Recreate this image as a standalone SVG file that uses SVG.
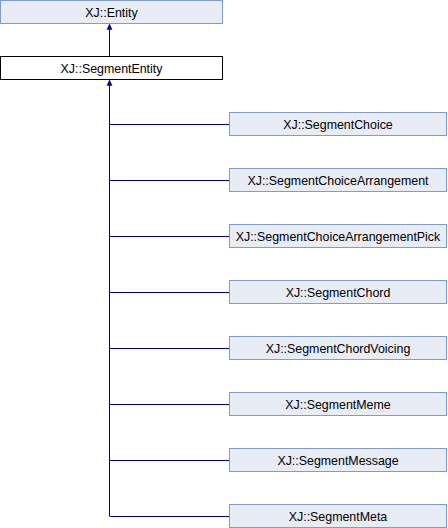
<svg xmlns="http://www.w3.org/2000/svg" width="448" height="528" viewBox="0 0 448 528">
<style>
.box{fill:#E8ECF5;stroke:#7F9BD0;stroke-width:1}
.cur{fill:#FFFFFF;stroke:#000000;stroke-width:1}
.lbl{font-family:"Liberation Sans",Arial,sans-serif;font-size:12.4px;fill:#000000;text-anchor:middle}
.ln{fill:none;stroke:#000080;stroke-width:1}
.ah{fill:#000080;stroke:#000080;stroke-width:0.5}
</style>
<rect width="448" height="528" fill="#FFFFFF"/>
<g id="connectors">
<path class="ln" d="M109.5,56 L109.5,26"/>
<polygon class="ah" points="109.5,24 112,29.5 107,29.5"/>
<path class="ln" d="M109.5,516 L109.5,82"/>
<polygon class="ah" points="109.5,80 112,85.5 107,85.5"/>
<path class="ln" d="M109.5,124.5 H229.5 M109.5,180.5 H229.5 M109.5,236.5 H229.5 M109.5,292.5 H229.5 M109.5,348.5 H229.5 M109.5,404.5 H229.5 M109.5,460.5 H229.5 M109.5,516.5 H229.5"/>
</g>
<g id="entity"><rect class="box" x="0.5" y="0.5" width="222" height="23"/><text class="lbl" x="111.5" y="16.5">XJ::Entity</text></g>
<g id="segmententity"><rect class="cur" x="0.5" y="56.5" width="222" height="23"/><text class="lbl" x="111.5" y="72.5">XJ::SegmentEntity</text></g>
<g id="segmentchoice"><rect class="box" x="229.5" y="112.5" width="217" height="23"/><text class="lbl" x="338" y="128.5">XJ::SegmentChoice</text></g>
<g id="segmentchoicearrangement"><rect class="box" x="229.5" y="168.5" width="217" height="23"/><text class="lbl" x="338" y="184.5">XJ::SegmentChoiceArrangement</text></g>
<g id="segmentchoicearrangementpick"><rect class="box" x="229.5" y="224.5" width="217" height="23"/><text class="lbl" x="338" y="240.5">XJ::SegmentChoiceArrangementPick</text></g>
<g id="segmentchord"><rect class="box" x="229.5" y="280.5" width="217" height="23"/><text class="lbl" x="338" y="296.5">XJ::SegmentChord</text></g>
<g id="segmentchordvoicing"><rect class="box" x="229.5" y="336.5" width="217" height="23"/><text class="lbl" x="338" y="352.5">XJ::SegmentChordVoicing</text></g>
<g id="segmentmeme"><rect class="box" x="229.5" y="392.5" width="217" height="23"/><text class="lbl" x="338" y="408.5">XJ::SegmentMeme</text></g>
<g id="segmentmessage"><rect class="box" x="229.5" y="448.5" width="217" height="23"/><text class="lbl" x="338" y="464.5">XJ::SegmentMessage</text></g>
<g id="segmentmeta"><rect class="box" x="229.5" y="504.5" width="217" height="23"/><text class="lbl" x="338" y="520.5">XJ::SegmentMeta</text></g>
</svg>
